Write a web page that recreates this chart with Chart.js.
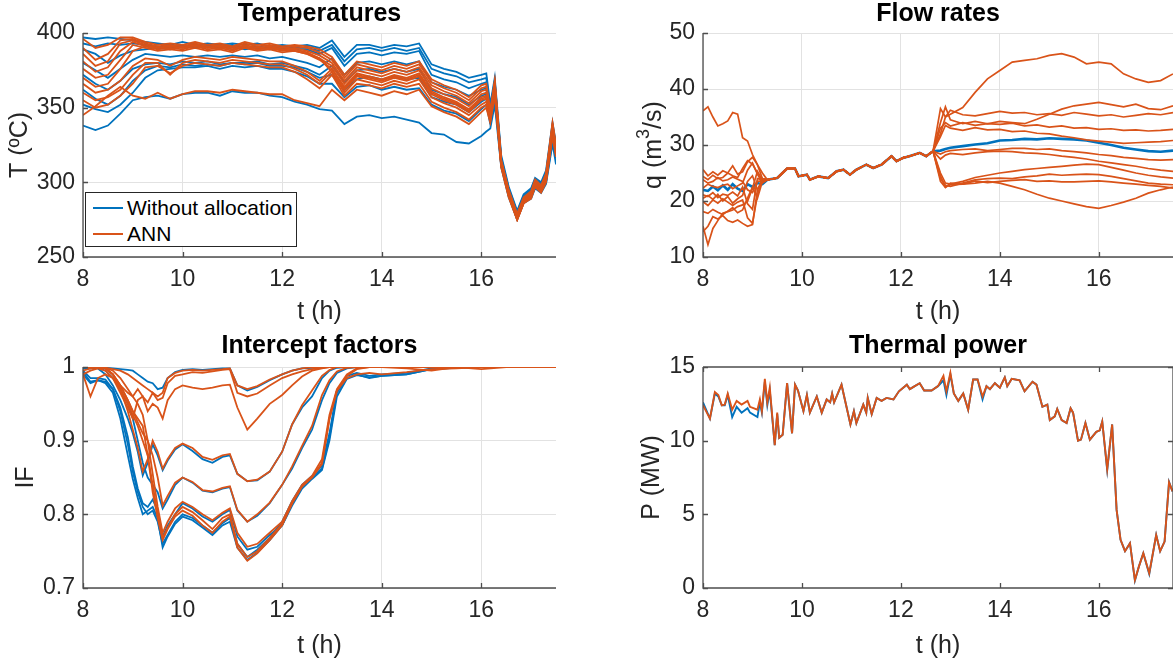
<!DOCTYPE html>
<html>
<head>
<meta charset="utf-8">
<script src="https://cdn.jsdelivr.net/npm/chart.js@4.4.1/dist/chart.umd.min.js"></script>
<style>
  html, body { margin: 0; padding: 0; background: #fff; overflow: hidden; }
  body { width: 1173px; height: 662px; position: relative; font-family: "Liberation Sans", Arial, sans-serif; }
  canvas { position: absolute; }
  .legend { position: absolute; left: 85px; top: 192px; width: 210px; height: 53px; border: 1px solid #262626; background: #fff; }
  .legend .row { position: absolute; left: 0; height: 26px; line-height: 26px; font-size: 21px; color: #000; white-space: nowrap; }
  .legend .swatch { position: absolute; left: 7px; top: 12px; width: 30px; height: 2px; }
  .legend .label { position: absolute; left: 41px; top: 0; }
</style>
</head>
<body>
<canvas id="temp" width="560" height="330" style="left:0;top:0"></canvas>
<canvas id="flow" width="553" height="330" style="left:620px;top:0"></canvas>
<canvas id="ifac" width="560" height="332" style="left:0;top:330px"></canvas>
<canvas id="power" width="553" height="332" style="left:620px;top:330px"></canvas>
<div class="legend">
  <div class="row" style="top:2px"><span class="swatch" style="background:#0072BD"></span><span class="label">Without allocation</span></div>
  <div class="row" style="top:28px"><span class="swatch" style="background:#D95319"></span><span class="label">ANN</span></div>
</div>
<script>
'use strict';

// ---------------- data ----------------
const xTicks = [8, 10, 12, 14, 16];
const tempTicks = [250, 300, 350, 400];
const flowTicks = [10, 20, 30, 40, 50];
const ifTicks = [0.7, 0.8, 0.9, 1];
const powerTicks = [0, 5, 10, 15];

// Temperatures (ºC)
const tempTime = [8, 8.25, 8.5, 8.75, 9, 9.25, 9.5, 9.75, 10, 10.25, 10.5, 10.75, 11, 11.25, 11.5, 11.75,
  12, 12.25, 12.5, 12.75, 13, 13.25, 13.5, 13.75, 14, 14.25, 14.5, 14.75, 15, 15.25, 15.5, 15.75, 16,
  16.1, 16.18, 16.27, 16.4, 16.55, 16.72, 16.85, 17, 17.08, 17.2, 17.3, 17.43, 17.5];

const tempBase = [
  [397, 396, 397, 396, 395, 394, 393, 392, 394, 392, 393, 392, 393, 392, 393, 391, 392, 391, 392, 390, 395, 384, 392, 392, 390, 392, 391, 393, 379, 376, 374, 370, 372, 373, 352, 370, 318, 297, 281, 292, 296, 303, 300, 308, 340, 326],
  [393, 391, 393, 392, 393, 392, 391, 390, 392, 391, 392, 391, 392, 390, 391, 390, 391, 390, 390, 388, 392, 381, 389, 390, 388, 390, 388, 390, 376, 373, 371, 367, 369, 370, 350, 368, 316, 296, 280, 291, 295, 302, 299, 306, 338, 324],
  [389, 386, 380, 385, 388, 389, 390, 389, 391, 390, 391, 390, 391, 389, 390, 389, 390, 389, 389, 386, 390, 378, 386, 387, 385, 387, 386, 388, 372, 369, 367, 363, 366, 367, 348, 366, 315, 295, 280, 290, 294, 301, 298, 305, 336, 322],
  [380, 375, 370, 376, 382, 386, 385, 384, 385, 384, 385, 384, 385, 384, 385, 383, 384, 382, 380, 377, 383, 372, 380, 381, 379, 381, 379, 381, 367, 364, 362, 358, 362, 363, 346, 364, 314, 294, 279, 290, 293, 300, 297, 304, 334, 321],
  [372, 366, 362, 368, 376, 379, 380, 379, 381, 380, 381, 379, 380, 380, 381, 379, 380, 378, 376, 372, 378, 367, 375, 376, 374, 376, 374, 376, 362, 359, 357, 352, 358, 359, 343, 361, 313, 293, 278, 289, 292, 299, 296, 303, 332, 319],
  [362, 356, 352, 358, 368, 375, 378, 377, 379, 378, 379, 378, 380, 379, 380, 378, 378, 377, 374, 370, 372, 362, 369, 371, 369, 371, 369, 370, 357, 354, 352, 347, 354, 356, 341, 359, 312, 292, 277, 288, 291, 298, 295, 302, 330, 318],
  [352, 349, 347, 352, 360, 370, 375, 376, 377, 377, 378, 376, 378, 377, 378, 376, 376, 374, 371, 366, 366, 357, 364, 365, 362, 364, 362, 363, 352, 348, 346, 341, 349, 352, 339, 357, 311, 291, 276, 287, 290, 297, 294, 300, 328, 316],
  [338, 335, 338, 346, 355, 357, 358, 356, 359, 360, 360, 358, 361, 360, 360, 358, 357, 354, 352, 349, 348, 339, 344, 345, 343, 344, 342, 340, 333, 332, 327, 326, 331, 334, 336, 352, 310, 290, 275, 286, 289, 296, 293, 299, 326, 312]
];

const tempAnn = [
  [396, 390, 392, 397, 397, 394, 392, 393, 392, 394, 392, 393, 391, 394, 392, 393, 391, 392, 391, 389, 384, 372, 381, 379, 377, 380, 378, 381, 369, 365, 362, 357, 365, 366, 348, 368, 315, 295, 279, 290, 294, 302, 298, 306, 340, 325],
  [390, 382, 386, 395, 396, 393, 391, 392, 391, 393, 391, 392, 390, 393, 391, 392, 390, 391, 390, 387, 382, 370, 379, 377, 375, 378, 376, 379, 367, 363, 360, 355, 363, 364, 347, 367, 314, 294, 278, 289, 293, 301, 297, 305, 339, 324],
  [386, 378, 381, 393, 395, 392, 390, 391, 390, 392, 390, 391, 389, 392, 390, 391, 389, 390, 388, 385, 380, 368, 377, 375, 373, 376, 374, 377, 365, 361, 358, 353, 361, 362, 346, 366, 314, 294, 278, 289, 293, 300, 297, 304, 338, 323],
  [381, 374, 377, 388, 394, 391, 389, 390, 389, 391, 389, 390, 388, 391, 389, 390, 388, 389, 387, 383, 378, 366, 375, 373, 371, 374, 372, 375, 363, 359, 356, 351, 359, 360, 345, 365, 313, 293, 277, 288, 292, 300, 296, 304, 337, 322],
  [376, 370, 372, 382, 392, 390, 388, 389, 388, 390, 388, 389, 387, 390, 388, 389, 387, 388, 386, 382, 376, 364, 373, 371, 369, 372, 370, 373, 361, 357, 354, 349, 357, 358, 344, 364, 313, 293, 277, 288, 292, 299, 296, 303, 336, 321],
  [370, 364, 366, 376, 388, 391, 390, 391, 390, 392, 390, 391, 389, 391, 389, 390, 389, 388, 386, 383, 374, 362, 371, 369, 367, 370, 368, 371, 359, 355, 352, 347, 355, 356, 343, 363, 312, 292, 276, 287, 291, 299, 295, 303, 335, 320],
  [366, 360, 362, 368, 378, 383, 382, 378, 382, 384, 383, 382, 384, 383, 382, 381, 381, 378, 374, 368, 376, 363, 372, 370, 368, 371, 369, 372, 360, 356, 353, 348, 356, 357, 343, 362, 312, 292, 276, 287, 291, 298, 295, 302, 334, 320],
  [360, 355, 357, 362, 372, 380, 380, 372, 380, 382, 381, 380, 382, 381, 380, 379, 379, 376, 372, 366, 374, 360, 369, 367, 365, 368, 366, 369, 357, 353, 350, 345, 352, 354, 342, 361, 311, 291, 275, 286, 290, 298, 294, 301, 333, 319],
  [355, 350, 352, 358, 366, 377, 378, 373, 378, 380, 379, 378, 380, 379, 378, 377, 377, 374, 369, 363, 372, 358, 366, 365, 363, 366, 364, 366, 354, 350, 347, 342, 350, 352, 341, 360, 311, 291, 275, 286, 290, 297, 294, 301, 332, 318],
  [345, 351, 358, 364, 358, 356, 360, 356, 359, 361, 361, 360, 362, 361, 360, 359, 359, 355, 353, 351, 362, 355, 362, 360, 358, 361, 359, 362, 351, 347, 344, 339, 347, 350, 340, 358, 310, 290, 275, 286, 289, 297, 293, 300, 331, 317]
];

// Flow rates (m3/s): before 9.2 h, shared stretch, after 12.65 h
const flowTime = [8, 8.1, 8.2, 8.3, 8.4, 8.5, 8.6, 8.7, 8.8, 8.9, 9, 9.1, 9.2,
  9.3, 9.5, 9.7, 9.86, 9.93, 10.1, 10.16, 10.33, 10.53, 10.7, 10.84, 10.97, 11.1, 11.3, 11.44, 11.61, 11.81, 11.91, 12.04, 12.17, 12.38, 12.51, 12.65,
  12.8, 12.9, 13, 13.25, 13.5, 13.75, 14, 14.25, 14.5, 14.75, 15, 15.25, 15.5, 15.75, 16, 16.25, 16.5, 16.75, 17, 17.25, 17.5];
const flowShared = [23.8, 24.1, 25.8, 25.8, 24.4, 24.7, 23.8, 24.4, 24.1, 25.3, 25.6, 24.7, 25.6, 26.5, 25.9, 26.5, 28.0, 27.1, 27.7, 28.0, 28.6, 28.0, 28.9];
const flowBaseEarly = [22.0, 21.8, 22.6, 21.9, 22.8, 22.0, 23.0, 22.2, 21.8, 23.0, 22.5, 23.2, 23.0];
const flowBaseLate = [29.0, 29.3, 29.5, 29.8, 30.1, 30.3, 30.8, 30.9, 31.1, 31.0, 31.2, 31.1, 31.0, 30.8, 30.4, 30.0, 29.5, 29.2, 28.9, 28.8, 29.0];
const flowAnnEarly = [
  [36.1, 36.8, 35.0, 33.4, 33.8, 34.3, 35.8, 35.5, 31.3, 30.7, 28.3, 26.5, 25.0],
  [25.6, 24.5, 25.2, 24.6, 25.4, 25.0, 26.3, 24.8, 25.2, 27.0, 27.8, 26.5, 24.0],
  [24.4, 23.8, 24.6, 24.0, 24.2, 25.0, 24.5, 24.2, 25.8, 27.2, 26.6, 25.0, 23.5],
  [23.8, 23.2, 23.5, 24.2, 23.6, 23.8, 24.3, 23.9, 23.5, 22.0, 21.5, 23.5, 23.6],
  [22.3, 23.0, 22.6, 22.4, 22.8, 23.0, 22.2, 22.7, 23.2, 25.5, 26.8, 24.8, 23.2],
  [21.1, 20.8, 21.5, 20.6, 21.2, 21.0, 21.6, 20.9, 22.5, 19.5, 18.5, 24.0, 23.8],
  [19.9, 19.2, 20.2, 19.6, 20.4, 19.8, 19.2, 19.8, 20.2, 17.0, 16.0, 21.0, 24.0],
  [18.1, 17.8, 18.5, 18.0, 17.6, 18.2, 18.8, 17.9, 18.4, 20.5, 22.5, 20.5, 23.5],
  [14.5, 15.5, 17.2, 16.8, 17.4, 16.5, 16.2, 16.6, 16.0, 15.5, 15.8, 22.0, 23.8],
  [15.5, 12.2, 15.1, 16.5, 17.8, 18.1, 18.4, 19.0, 19.3, 19.9, 22.3, 25.3, 23.8],
  [20.5, 21.0, 20.3, 21.2, 20.0, 20.8, 19.6, 20.4, 21.0, 23.5, 24.5, 22.0, 23.5]
];
const flowAnnLate = [
  [32.0, 35.0, 35.5, 36.7, 39.4, 41.8, 43.3, 44.8, 45.1, 45.4, 46.0, 46.3, 45.7, 44.5, 44.8, 44.5, 42.7, 41.8, 41.2, 41.5, 42.7],
  [36.5, 35.0, 36.2, 35.4, 35.2, 35.6, 36.0, 35.7, 35.8, 35.4, 35.6, 35.3, 35.8, 35.5, 35.2, 35.4, 35.0, 35.3, 35.6, 35.4, 35.8],
  [34.0, 36.8, 34.5, 33.8, 34.2, 33.8, 34.2, 34.0, 33.8, 34.6, 35.5, 36.4, 37.0, 37.3, 37.6, 37.2, 36.8, 37.3, 36.5, 36.3, 37.0],
  [33.0, 34.0, 33.4, 34.0, 33.5, 33.8, 33.7, 33.9, 33.4, 33.6, 33.2, 33.4, 33.0, 33.1, 32.8, 32.9, 32.6, 32.7, 32.5, 32.6, 32.8],
  [31.5, 33.5, 33.0, 32.6, 33.1, 32.7, 32.8, 32.4, 32.5, 32.1, 32.0, 31.6, 31.3, 30.9, 30.7, 30.5, 30.3, 30.4, 30.5, 30.6, 30.8],
  [28.4, 28.8, 29.0, 29.2, 29.3, 29.0, 29.2, 29.4, 29.4, 29.2, 29.3, 29.0, 28.8, 28.6, 28.3, 28.1, 27.8, 27.6, 27.4, 27.3, 27.4],
  [27.5, 28.2, 28.5, 28.3, 28.6, 28.8, 28.9, 28.8, 28.6, 28.5, 28.3, 28.0, 27.8, 27.5, 27.1, 26.8, 26.5, 26.2, 25.8, 25.5, 25.3],
  [25.0, 23.2, 23.0, 23.5, 24.2, 24.6, 25.0, 25.3, 25.6, 25.8, 26.0, 26.2, 26.4, 26.6, 26.5, 26.0, 25.5, 25.0, 24.6, 24.3, 24.1],
  [24.0, 22.8, 22.6, 23.2, 23.8, 24.0, 24.1, 24.0, 24.3, 24.5, 24.8, 24.6, 24.7, 24.8, 24.7, 24.4, 24.0, 23.6, 23.2, 23.0, 22.9],
  [23.5, 22.4, 23.2, 23.0, 23.6, 23.3, 23.5, 23.7, 23.8, 23.5, 23.6, 23.4, 23.4, 23.5, 23.6, 23.4, 23.2, 23.0, 22.8, 22.6, 22.3],
  [24.5, 22.5, 22.9, 23.0, 23.2, 23.5, 23.2, 22.6, 22.0, 21.2, 20.5, 20.0, 19.5, 19.0, 18.7, 19.2, 19.8, 20.5, 21.4, 22.0, 22.5]
];

// Intercept factors
const ifTime = [8, 8.15, 8.3, 8.45, 8.6, 8.75, 8.9, 9, 9.1, 9.2, 9.3, 9.4, 9.5, 9.6, 9.7, 9.85, 10, 10.2, 10.4, 10.6,
  10.8, 10.95, 11.1, 11.3, 11.5, 11.75, 12, 12.2, 12.4, 12.6, 12.8, 12.95, 13.1, 13.3, 13.5, 13.75, 14, 14.5, 15, 15.5, 16, 16.5, 17, 17.5];
const ifBase = [
  [0.998, 0.998, 1.0, 0.999, 0.998, 0.997, 0.996, 0.995, 0.99, 0.985, 0.98, 0.978, 0.97, 0.972, 0.985, 0.993, 0.996, 0.997, 0.996, 0.997, 0.998, 0.998, 0.975, 0.968, 0.973, 0.982, 0.99, 0.995, 0.998, 0.999, 1, 1, 1, 1, 1, 1, 1, 1, 1, 1, 1, 1, 1, 1],
  [1.0, 0.999, 0.998, 0.99, 0.975, 0.955, 0.93, 0.91, 0.885, 0.853, 0.87, 0.895, 0.88, 0.86, 0.873, 0.888, 0.895, 0.886, 0.875, 0.87, 0.878, 0.88, 0.855, 0.845, 0.846, 0.858, 0.885, 0.922, 0.945, 0.96, 0.985, 0.995, 0.999, 1, 1, 1, 1, 1, 1, 1, 1, 1, 1, 1],
  [0.998, 0.998, 0.999, 0.995, 0.985, 0.97, 0.95, 0.93, 0.9, 0.87, 0.85, 0.84, 0.83, 0.808, 0.82, 0.84, 0.85, 0.843, 0.832, 0.83, 0.835, 0.837, 0.805, 0.79, 0.798, 0.815, 0.84, 0.862, 0.89, 0.915, 0.955, 0.978, 0.992, 0.998, 1, 1, 1, 1, 1, 1, 1, 1, 1, 1],
  [0.99, 0.978, 0.982, 0.978, 0.965, 0.93, 0.88, 0.848, 0.822, 0.8, 0.805, 0.81, 0.795, 0.755, 0.77, 0.787, 0.797, 0.792, 0.782, 0.772, 0.785, 0.79, 0.755, 0.738, 0.748, 0.765, 0.785, 0.815, 0.838, 0.85, 0.862, 0.905, 0.965, 0.985, 0.99, 0.985, 0.988, 0.99, 0.997, 0.999, 1, 1, 1, 1],
  [0.995, 0.985, 0.985, 0.983, 0.97, 0.94, 0.895, 0.858, 0.83, 0.81, 0.8, 0.805, 0.79, 0.76, 0.772, 0.79, 0.8, 0.795, 0.785, 0.775, 0.788, 0.795, 0.76, 0.742, 0.752, 0.768, 0.79, 0.818, 0.84, 0.852, 0.866, 0.91, 0.968, 0.988, 0.992, 0.988, 0.99, 0.992, 0.998, 1, 1, 1, 1, 1],
  [0.993, 0.98, 0.982, 0.98, 0.97, 0.945, 0.905, 0.865, 0.835, 0.815, 0.81, 0.82, 0.805, 0.77, 0.785, 0.8, 0.815, 0.808, 0.797, 0.79, 0.8, 0.806, 0.77, 0.752, 0.756, 0.772, 0.785, 0.812, 0.835, 0.848, 0.86, 0.9, 0.96, 0.984, 0.989, 0.986, 0.988, 0.99, 0.997, 1, 1, 1, 1, 1]
];
const ifAnn = [
  [1.0, 1.0, 1.0, 0.999, 0.997, 0.995, 0.99, 0.985, 0.98, 0.975, 0.97, 0.965, 0.96, 0.965, 0.985, 0.992, 0.995, 0.996, 0.995, 0.996, 0.997, 0.998, 0.975, 0.97, 0.974, 0.983, 0.99, 0.995, 0.998, 1, 1, 1, 1, 1, 1, 1, 1, 1, 1, 1, 1, 1, 1, 1],
  [0.995, 0.998, 1.0, 0.999, 0.99, 0.975, 0.965, 0.96, 0.97, 0.96, 0.952, 0.965, 0.955, 0.958, 0.978, 0.988, 0.99, 0.993, 0.992, 0.994, 0.996, 0.997, 0.965, 0.96, 0.964, 0.975, 0.985, 0.99, 0.994, 0.997, 0.999, 1, 1, 1, 1, 1, 1, 0.998, 0.995, 1, 0.997, 1, 1, 1],
  [0.99, 0.995, 0.998, 0.995, 0.985, 0.965, 0.945, 0.93, 0.955, 0.96, 0.94, 0.95, 0.945, 0.93, 0.955, 0.97, 0.975, 0.972, 0.97, 0.972, 0.975, 0.976, 0.945, 0.915, 0.93, 0.95, 0.962, 0.975, 0.987, 0.995, 0.998, 1, 1, 1, 1, 1, 1, 1, 1, 1, 1, 1, 1, 1],
  [1.0, 1.0, 0.999, 0.998, 0.99, 0.97, 0.94, 0.915, 0.89, 0.858, 0.875, 0.9, 0.885, 0.862, 0.875, 0.89, 0.896, 0.89, 0.878, 0.874, 0.88, 0.882, 0.855, 0.845, 0.847, 0.858, 0.885, 0.922, 0.948, 0.968, 0.988, 0.996, 1, 1, 1, 1, 1, 1, 1, 1, 1, 1, 1, 1],
  [1.0, 1.0, 1.0, 0.998, 0.99, 0.975, 0.955, 0.94, 0.925, 0.91, 0.9, 0.88, 0.85, 0.812, 0.825, 0.843, 0.85, 0.844, 0.833, 0.831, 0.836, 0.838, 0.806, 0.79, 0.8, 0.816, 0.84, 0.865, 0.893, 0.92, 0.962, 0.982, 0.994, 0.999, 1, 1, 1, 1, 1, 1, 1, 1, 1, 1],
  [1.0, 1.0, 1.0, 0.999, 0.995, 0.985, 0.97, 0.96, 0.95, 0.935, 0.9, 0.855, 0.81, 0.775, 0.79, 0.808, 0.817, 0.81, 0.8, 0.792, 0.802, 0.808, 0.775, 0.756, 0.76, 0.775, 0.79, 0.818, 0.84, 0.852, 0.875, 0.935, 0.97, 0.99, 0.998, 1, 1, 1, 1, 1, 1, 1, 1, 1],
  [0.99, 0.96, 0.985, 0.99, 0.985, 0.97, 0.95, 0.935, 0.92, 0.9, 0.88, 0.84, 0.8, 0.768, 0.782, 0.8, 0.81, 0.803, 0.792, 0.78, 0.795, 0.8, 0.76, 0.742, 0.75, 0.768, 0.787, 0.815, 0.838, 0.85, 0.87, 0.93, 0.968, 0.988, 0.997, 1, 1, 1, 1, 1, 1, 1, 1, 1],
  [1.0, 1.0, 1.0, 0.998, 0.99, 0.975, 0.955, 0.94, 0.93, 0.92, 0.88, 0.83, 0.795, 0.765, 0.78, 0.797, 0.805, 0.798, 0.785, 0.775, 0.79, 0.797, 0.755, 0.737, 0.747, 0.765, 0.785, 0.815, 0.838, 0.85, 0.868, 0.93, 0.968, 0.985, 0.99, 0.992, 0.99, 0.993, 0.997, 0.998, 1, 1, 1, 1]
];

// Thermal power (MW)
const powerTime = [8, 8.14, 8.24, 8.31, 8.38, 8.44, 8.5, 8.59, 8.68, 8.78,
  8.9, 8.95, 9.1, 9.15, 9.19, 9.25, 9.3, 9.35, 9.45, 9.5,
  9.54, 9.61, 9.7, 9.8, 9.86, 9.92, 10.03, 10.1, 10.16, 10.3,
  10.4, 10.5, 10.57, 10.61, 10.65, 10.8, 10.9, 10.98, 11.05, 11.1,
  11.24, 11.3, 11.33, 11.41, 11.51, 11.61, 11.71, 11.85, 11.96, 12.12,
  12.18, 12.28, 12.38, 12.47, 12.62, 12.75, 12.86, 12.92, 13, 13.07,
  13.16, 13.26, 13.36, 13.46, 13.55, 13.65, 13.73, 13.8, 13.9, 14,
  14.1, 14.15, 14.24, 14.4, 14.5, 14.66, 14.74, 14.86, 14.96, 15.01,
  15.11, 15.16, 15.25, 15.35, 15.43, 15.48, 15.58, 15.64, 15.73, 15.82,
  15.95, 16.02, 16.07, 16.17, 16.27, 16.36, 16.44, 16.53, 16.63, 16.73,
  16.81, 16.9, 17.02, 17.16, 17.24, 17.33, 17.42, 17.49];
const powerAnn = [12.4, 11.5, 13.3, 13.1, 12.4, 12.45, 13.2, 12.1, 12.7, 12.45,
  12.7, 12.3, 12.1, 12.8, 12.0, 14.2, 12.6, 13.6, 9.7, 11.9,
  10.2, 10.4, 13.9, 10.5, 13.8, 13.4, 12.0, 13.1, 11.9, 13.0,
  11.9, 12.8, 12.6, 13.2, 12.6, 13.8, 12.3, 11.1, 12.0, 11.2,
  12.45, 11.9, 12.9, 11.8, 12.9, 12.7, 12.9, 12.8, 13.35, 13.8,
  13.5, 13.7, 13.9, 13.4, 13.4, 13.7, 14.4, 13.35, 14.6, 13.2,
  12.7, 13.2, 12.1, 14.15, 14.15, 13.0, 13.7, 13.5, 13.9, 13.6,
  14.3, 13.7, 14.2, 14.1, 13.35, 14.0, 13.8, 12.3, 12.45, 11.4,
  11.65, 12.15, 11.4, 11.2, 12.2, 11.9, 10.0, 10.07, 11.2, 10.07,
  10.6, 10.7, 11.3, 8.07, 11.1, 5.3, 3.27, 2.5, 3.04, 0.54,
  1.45, 2.36, 1.0, 3.6, 2.5, 3.15, 7.17, 6.55];
const powerBase = [12.6, 11.5, 13.2, 13.0, 12.4, 12.4, 13.1, 11.6, 12.3, 11.9,
  12.2, 11.9, 11.6, 12.6, 11.9, 14.0, 12.4, 13.4, 9.7, 11.8,
  10.2, 10.4, 13.9, 10.5, 13.8, 13.4, 12.0, 13.1, 11.9, 13.0,
  11.9, 12.8, 12.6, 13.2, 12.6, 13.8, 12.3, 11.1, 12.0, 11.2,
  12.45, 11.9, 12.9, 11.8, 12.9, 12.7, 12.9, 12.8, 13.35, 13.8,
  13.5, 13.7, 13.9, 13.4, 13.4, 13.7, 14.1, 13.1, 14.5, 13.2,
  12.7, 13.2, 12.1, 14.15, 14.15, 12.8, 13.7, 13.5, 13.9, 13.6,
  14.3, 13.7, 14.2, 14.1, 13.35, 14.0, 13.8, 12.3, 12.45, 11.4,
  11.65, 12.15, 11.4, 11.2, 12.2, 11.9, 10.0, 10.07, 11.2, 10.07,
  10.6, 10.7, 11.3, 8.0, 11.1, 5.3, 3.27, 2.5, 3.04, 0.5,
  1.45, 2.36, 0.95, 3.6, 2.5, 3.15, 7.2, 6.55];

// ---------------- drawing ----------------
const BLUE = '#0072BD', ORANGE = '#D95319';
const AXIS = '#4d4d4d', TEXT = '#262626', GRID = '#e2e2e2';
const FONT = '"Liberation Sans", Arial, sans-serif';
const TICK_SIZE = 23, LABEL_SIZE = 25, TITLE_SIZE = 25;
Chart.defaults.font.family = FONT;

function pts(times, values) {
  return times.map((t, i) => ({ x: t, y: values[i] }));
}
function lineSet(times, list, color, width, order) {
  return list.map(v => ({
    data: pts(times, v), borderColor: color, borderWidth: width,
    pointRadius: 0, fill: false, tension: 0, order: order
  }));
}

// label given as pieces, e.g. [['q (m'], ['3', true], ['/s)']] -> superscript
function drawRich(ctx, parts, size) {
  const fontOf = sup => (sup ? Math.round(size * 0.72) : size) + 'px ' + FONT;
  let total = 0;
  parts.forEach(p => { ctx.font = fontOf(p[1]); total += ctx.measureText(p[0]).width; });
  let x = -total / 2;
  ctx.textAlign = 'left';
  parts.forEach(p => {
    ctx.font = fontOf(p[1]);
    ctx.fillText(p[0], x, p[1] ? -size * 0.38 : 0);
    x += ctx.measureText(p[0]).width;
  });
}

// MATLAB-like axes: inward ticks, axis lines, titles drawn over the plot
const matlabAxes = {
  id: 'matlabAxes',
  afterDraw(chart, args, o) {
    const ctx = chart.ctx, a = chart.chartArea;
    const sx = chart.scales.x, sy = chart.scales.y;
    ctx.save();
    ctx.strokeStyle = AXIS;
    ctx.lineWidth = 1.3;
    ctx.beginPath();
    sx.ticks.forEach(t => {
      const px = Math.round(sx.getPixelForValue(t.value)) + 0.5;
      ctx.moveTo(px, a.bottom); ctx.lineTo(px, a.bottom - 5);
      if (o.box) { ctx.moveTo(px, a.top); ctx.lineTo(px, a.top + 5); }
    });
    sy.ticks.forEach(t => {
      const py = Math.round(sy.getPixelForValue(t.value)) + 0.5;
      ctx.moveTo(a.left, py); ctx.lineTo(a.left + 5, py);
      if (o.box) { ctx.moveTo(a.right, py); ctx.lineTo(a.right - 5, py); }
    });
    ctx.moveTo(a.left, a.top); ctx.lineTo(a.left, a.bottom); ctx.lineTo(a.right, a.bottom);
    if (o.box) { ctx.moveTo(a.left, a.top); ctx.lineTo(a.right, a.top); ctx.lineTo(a.right, a.bottom); }
    ctx.stroke();

    const cx = (a.left + a.right) / 2;
    ctx.textAlign = 'center';
    ctx.textBaseline = 'middle';
    ctx.fillStyle = '#000';
    ctx.font = 'bold ' + TITLE_SIZE + 'px ' + FONT;
    ctx.fillText(o.title, cx, o.titleY);
    ctx.fillStyle = TEXT;
    ctx.font = LABEL_SIZE + 'px ' + FONT;
    ctx.fillText(o.xLabel, cx, o.xLabelY);
    ctx.translate(o.yLabelX, (a.top + a.bottom) / 2);
    ctx.rotate(-Math.PI / 2);
    drawRich(ctx, o.yLabel, LABEL_SIZE);
    ctx.restore();
  }
};

function makeChart(id, p) {
  return new Chart(document.getElementById(id), {
    type: 'line',
    data: { datasets: p.datasets },
    options: {
      responsive: false,
      animation: false,
      events: [],
      layout: { padding: p.padding },
      scales: {
        x: {
          type: 'linear', min: 8, max: 17.5,
          afterBuildTicks: s => { s.ticks = xTicks.map(v => ({ value: v })); },
          afterFit: s => { s.height = p.xAxisHeight; },
          grid: { display: p.grid, color: GRID, lineWidth: 1, drawTicks: false },
          border: { display: false },
          ticks: { padding: 9, color: TEXT, font: { size: TICK_SIZE }, maxRotation: 0, autoSkip: false, callback: v => String(v) }
        },
        y: {
          type: 'linear', min: p.yTicks[0], max: p.yTicks[p.yTicks.length - 1],
          afterBuildTicks: s => { s.ticks = p.yTicks.map(v => ({ value: v })); },
          afterFit: s => { s.width = 83; },
          grid: { display: p.grid, color: GRID, lineWidth: 1, drawTicks: false },
          border: { display: false },
          ticks: { padding: 8, color: TEXT, font: { size: TICK_SIZE }, autoSkip: false, callback: v => String(v) }
        }
      },
      plugins: {
        legend: { display: false },
        tooltip: { enabled: false },
        matlabAxes: p.text
      }
    },
    plugins: [matlabAxes]
  });
}

makeChart('temp', {
  datasets: lineSet(tempTime, tempBase, BLUE, 1.8, 1).concat(lineSet(tempTime, tempAnn, ORANGE, 1.8, 0)),
  yTicks: tempTicks, grid: true, xAxisHeight: 73,
  padding: { top: 33, right: 4, left: 0, bottom: 0 },
  text: { title: 'Temperatures', xLabel: 't (h)', yLabel: [['T (ºC)']], titleY: 14, xLabelY: 312, yLabelX: 20, box: false }
});

const flowBase = [flowBaseEarly.concat(flowShared, flowBaseLate)];
const flowAnn = flowAnnEarly.map((e, i) => e.concat(flowShared, flowAnnLate[i]));
makeChart('flow', {
  datasets: lineSet(flowTime, flowBase, BLUE, 2.6, 1).concat(lineSet(flowTime, flowAnn, ORANGE, 1.7, 0)),
  yTicks: flowTicks, grid: true, xAxisHeight: 73,
  padding: { top: 33, right: 0, left: 0, bottom: 0 },
  text: { title: 'Flow rates', xLabel: 't (h)', yLabel: [['q (m'], ['3', true], ['/s)']], titleY: 14, xLabelY: 312, yLabelX: 34, box: false }
});

makeChart('ifac', {
  datasets: lineSet(ifTime, ifBase, BLUE, 1.8, 1).concat(lineSet(ifTime, ifAnn, ORANGE, 1.8, 0)),
  yTicks: ifTicks, grid: true, xAxisHeight: 74,
  padding: { top: 37, right: 4, left: 0, bottom: 0 },
  text: { title: 'Intercept factors', xLabel: 't (h)', yLabel: [['IF']], titleY: 16, xLabelY: 316, yLabelX: 26, box: false }
});

makeChart('power', {
  datasets: lineSet(powerTime, [powerBase], BLUE, 1.9, 1).concat(lineSet(powerTime, [powerAnn], ORANGE, 1.9, 0)),
  yTicks: powerTicks, grid: false, xAxisHeight: 74,
  padding: { top: 37, right: 0, left: 0, bottom: 0 },
  text: { title: 'Thermal power', xLabel: 't (h)', yLabel: [['P (MW)']], titleY: 16, xLabelY: 316, yLabelX: 32, box: true }
});
</script>
</body>
</html>
